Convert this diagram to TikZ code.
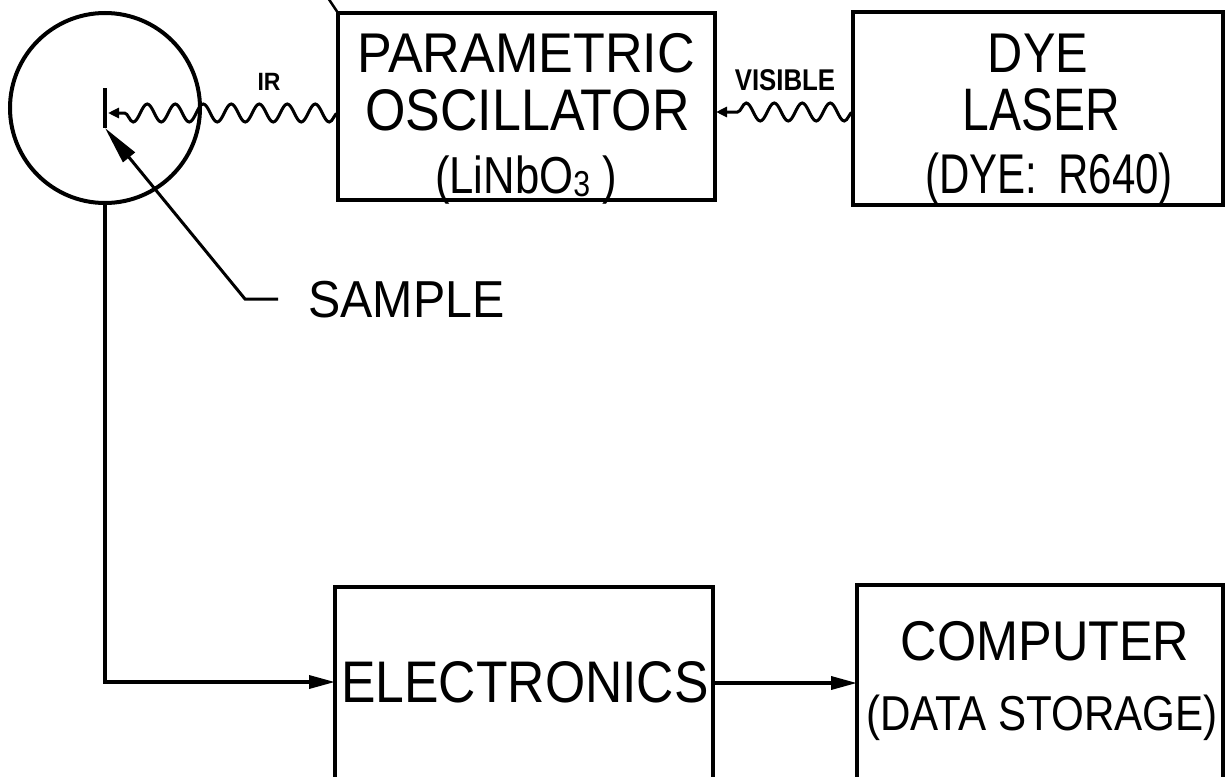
\documentclass[tikz,border=0pt]{standalone}
\usepackage{fontspec}
\setmainfont{Liberation Sans}
\usetikzlibrary{arrows.meta,decorations.pathmorphing,calc}
\newcommand{\hsq}[2]{\scalebox{#1}[1]{#2}}
\begin{document}
\begin{tikzpicture}[x=1pt,y=-1pt,
  box/.style={draw, line width=4pt, rectangle, inner sep=0pt, outer sep=0pt},
  lbl/.style={inner sep=0pt, anchor=base},
  conn/.style={line width=3.5pt},
  arr/.style={conn, -{Triangle[length=26pt,width=13pt]}},
  wave/.style={line width=3pt, decorate,
    decoration={snake, segment length=28pt, amplitude=9pt, pre length=0pt, post length=10pt},
    -{Triangle[length=11pt,width=10pt]}},
  pointer/.style={line width=3pt, -{Triangle[length=38pt,width=15pt]}}
]
\useasboundingbox (0,0) rectangle (1230,776);
\clip (0,0) rectangle (1230,776);

% boxes
\node[box, minimum width=377pt, minimum height=187pt] (po) at (526.5,106.5) {};
\node[box, minimum width=370pt, minimum height=193pt] (dye) at (1038,108.5) {};
\node[box, minimum width=378pt, minimum height=226pt] (elec) at (524,700) {};
\node[box, minimum width=366pt, minimum height=230pt] (comp) at (1040,700) {};
\node[draw, circle, line width=4pt, minimum size=190pt, inner sep=0pt] (circ) at (105,108) {};

% texts
\node[lbl, font=\fontsize{56}{60}\selectfont] (t1) at (526,72) {\hsq{0.93}{PARAMETRIC}};
\node[lbl, font=\fontsize{58.7}{60}\selectfont] (t2) at (527.5,130) {\hsq{0.885}{OSCILLATOR}};
\node[lbl, font=\fontsize{52}{56}\selectfont] (t3) at (526,193) {\hsq{0.84}{(LiNbO\raisebox{-3pt}{\fontsize{36}{38}\selectfont 3}\ )}};
\node[lbl, font=\fontsize{56}{60}\selectfont] (t4) at (1038,72) {\hsq{0.87}{DYE}};
\node[lbl, font=\fontsize{60}{62}\selectfont] (t5) at (1041,130) {\hsq{0.8}{LASER}};
\node[lbl, font=\fontsize{56}{60}\selectfont] (t6) at (1049,193) {\hsq{0.75}{(DYE:\enspace R640)}};
\node[lbl, font=\fontsize{58.7}{60}\selectfont] (t7) at (525,702) {\hsq{0.88}{ELECTRONICS}};
\node[lbl, font=\fontsize{56}{60}\selectfont] (t8) at (1045,660) {\hsq{0.9}{COMPUTER}};
\node[lbl, font=\fontsize{49}{52}\selectfont] (t9) at (1042,730) {\hsq{0.86}{(DATA STORAGE)}};
\node[inner sep=0pt, anchor=base west, font=\fontsize{52}{56}\selectfont] (t10) at (308,317) {\hsq{0.93}{SAMPLE}};
\node[lbl, font=\bfseries\fontsize{25}{28}\selectfont] (t11) at (269,90) {\hsq{0.92}{IR}};
\node[lbl, font=\bfseries\fontsize{30}{32}\selectfont] (t12) at (785,90) {\hsq{0.86}{VISIBLE}};

% sample stick
\coordinate (stktop) at (105,88);
\coordinate (stkbot) at (105,128);
\draw[line width=3.5pt] (stktop) -- (stkbot);

% waves
\coordinate (irend) at (108,113);
\draw[wave] (po.west |- irend) -- (irend);
\coordinate (visend) at (716,112);
\draw[wave] (dye.west |- visend) -- (visend);

% pointer to sample
\coordinate (sp1) at (278,299);
\coordinate (sp2) at (245,299);
\draw[pointer] (sp1) -- (sp2) -- (stkbot);

% top-left leftover line
\coordinate (tl) at (328,-2);
\draw[line width=2.5pt] (tl) -- (po.north west);

% signal path
\coordinate (ein) at ($(elec.north west)+(0,95)$);
\draw[arr] (circ.south) |- (ein);
\coordinate (eout) at ($(elec.north east)+(0,96)$);
\draw[arr] (eout) -- (comp.west |- eout);
\end{tikzpicture}
\end{document}
